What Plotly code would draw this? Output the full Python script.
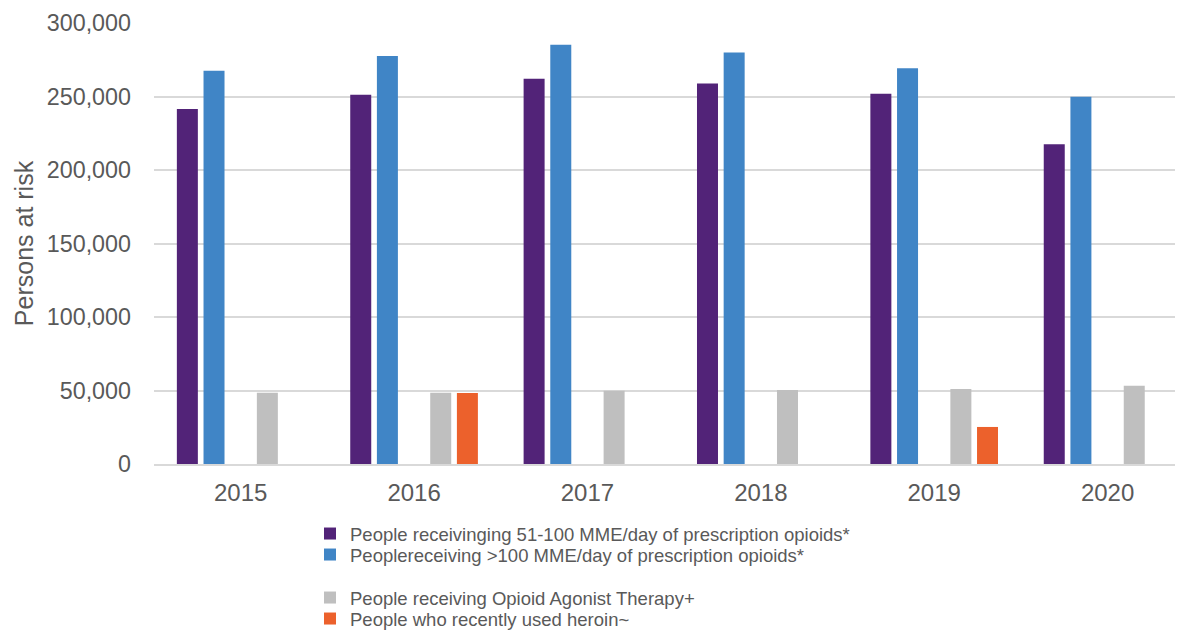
import plotly.graph_objects as go

years = ["2015", "2016", "2017", "2018", "2019", "2020"]
mme_51_100 = [241500, 251200, 262100, 258900, 251900, 217600]
mme_over_100 = [267500, 277500, 285200, 280000, 269300, 249800]
blank_series = [None, None, None, None, None, None]
oat = [48500, 48500, 49800, 50400, 51100, 53300]
heroin = [None, 48300, None, None, 25200, None]

names = [
    "People receivinging 51-100 MME/day of prescription opioids*",
    "Peoplereceiving >100 MME/day of prescription opioids*",
    " ",
    "People receiving Opioid Agonist Therapy+",
    "People who recently used heroin~",
]
colors = ["#522378", "#4085c6", "rgba(0,0,0,0)", "#bfbfbf", "#ec612c"]
series = [mme_51_100, mme_over_100, blank_series, oat, heroin]
legend_ids = ["legend", "legend2", None, "legend3", "legend4"]

# page body has an 8px margin, so the figure is drawn offset by (8, 8)
OFF = 8
W, H = 1183 - OFF, 630 - OFF
ML, MR, MT, MB = 154 - OFF, 0, 23 - OFF, 166
pw = W - ML - MR
ph = H - MT - MB

fig = go.Figure()
for vals, name, col, lg in zip(series, names, colors, legend_ids):
    kw = dict(x=years, y=vals, name=name, marker=dict(color=col, line=dict(width=0)))
    if lg is None:
        kw["showlegend"] = False
    else:
        kw["legend"] = lg
    fig.add_trace(go.Bar(**kw))

def px_to_paper_x(xp):
    return (xp - OFF - ML) / pw

def px_to_paper_y(yp):
    return (H - MB - (yp - OFF)) / ph

legend_font = dict(family="Liberation Sans, Arial, sans-serif", size=18.5, color="#595959")
item_y = [534, 555, 598, 619]
legend_layout = {}
for key, yp in zip(["legend", "legend2", "legend3", "legend4"], item_y):
    legend_layout[key] = dict(
        x=px_to_paper_x(310), xanchor="left",
        y=px_to_paper_y(yp), yanchor="middle",
        font=legend_font, bgcolor="rgba(0,0,0,0)", borderwidth=0,
        itemclick=False, itemdoubleclick=False,
    )

fig.update_layout(
    width=W, height=H,
    margin=dict(l=ML, r=MR, t=MT, b=MB, autoexpand=False),
    paper_bgcolor="white", plot_bgcolor="white",
    barmode="group", bargap=0.231, bargroupgap=0.2125,
    font=dict(family="Liberation Sans, Arial, sans-serif", color="#595959"),
    **legend_layout,
)

fig.update_xaxes(
    type="category", range=[-0.5, 5.435],
    showgrid=False, showline=True, linecolor="#d9d9d9", linewidth=1.5,
    ticks="", tickfont=dict(size=24, color="#595959"),
    ticklabelstandoff=6,
)
fig.update_yaxes(
    range=[0, 300000], tickvals=[0, 50000, 100000, 150000, 200000, 250000, 300000],
    tickformat=",", showgrid=True, gridcolor="#d9d9d9", gridwidth=1.5,
    zeroline=False, showline=False, ticks="",
    tickfont=dict(size=23.3, color="#595959"),
    ticklabelstandoff=22,
    title=dict(text="Persons at risk", font=dict(size=25, color="#595959"), standoff=6),
)

fig.write_html("out.html")
